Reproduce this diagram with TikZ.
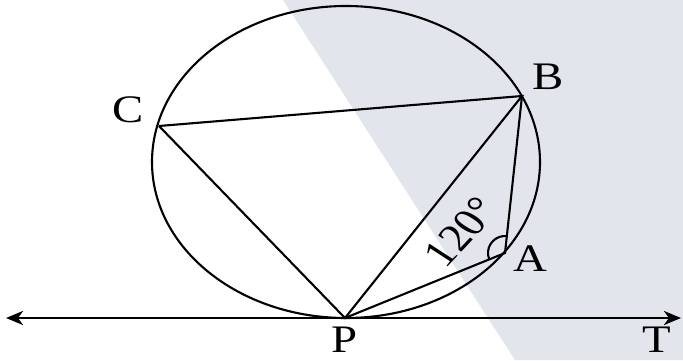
\documentclass[tikz,border=0pt]{standalone}
\usepackage{fontspec}
\setmainfont{Liberation Serif}
\usetikzlibrary{arrows.meta,calc}
\definecolor{bgwash}{RGB}{226,229,236}
\tikzset{
  geo/.style={line width=2.1pt, black},
  tangentline/.style={line width=2.8pt, black, {Stealth[length=17pt,width=14pt,inset=5pt]}-{Stealth[length=17pt,width=14pt,inset=5pt]}},
  lbl/.style={font=\fontsize{39}{42}\selectfont, inner sep=0pt, xscale=1.2},
}
\begin{document}
\begin{tikzpicture}[x=1pt,y=1pt]
\useasboundingbox (0,0) rectangle (683,360);
\fill[bgwash] (283,360) -- (683,360) -- (683,0) -- (515,0) -- cycle;
\coordinate (P) at (345,42);
\coordinate (A) at (505,107);
\coordinate (B) at (522,264);
\coordinate (C) at (159,234);
\coordinate (Lend) at (6,42);
\coordinate (Rend) at (681,42);
\draw[geo] (346,198) ellipse [x radius=194pt, y radius=156pt];
\draw[tangentline] (Lend) -- (Rend);
\draw[geo] (C) -- (B) -- (P) -- (C);
\draw[geo] (P) -- (A) -- (B);
\draw[geo] ($(A)+(84:17)$) arc[start angle=84, end angle=202, radius=17pt];
\node[lbl] (lC) at (128,250) {C};
\node[lbl] (lB) at (548,283) {B};
\node[lbl] (lA) at (530,101) {A};
\node[lbl] (lP) at (345,20) {P};
\node[lbl] (lT) at (657,20) {T};
\node[lbl, rotate=52] (ang) at (461,128) {120°};
\end{tikzpicture}
\end{document}
